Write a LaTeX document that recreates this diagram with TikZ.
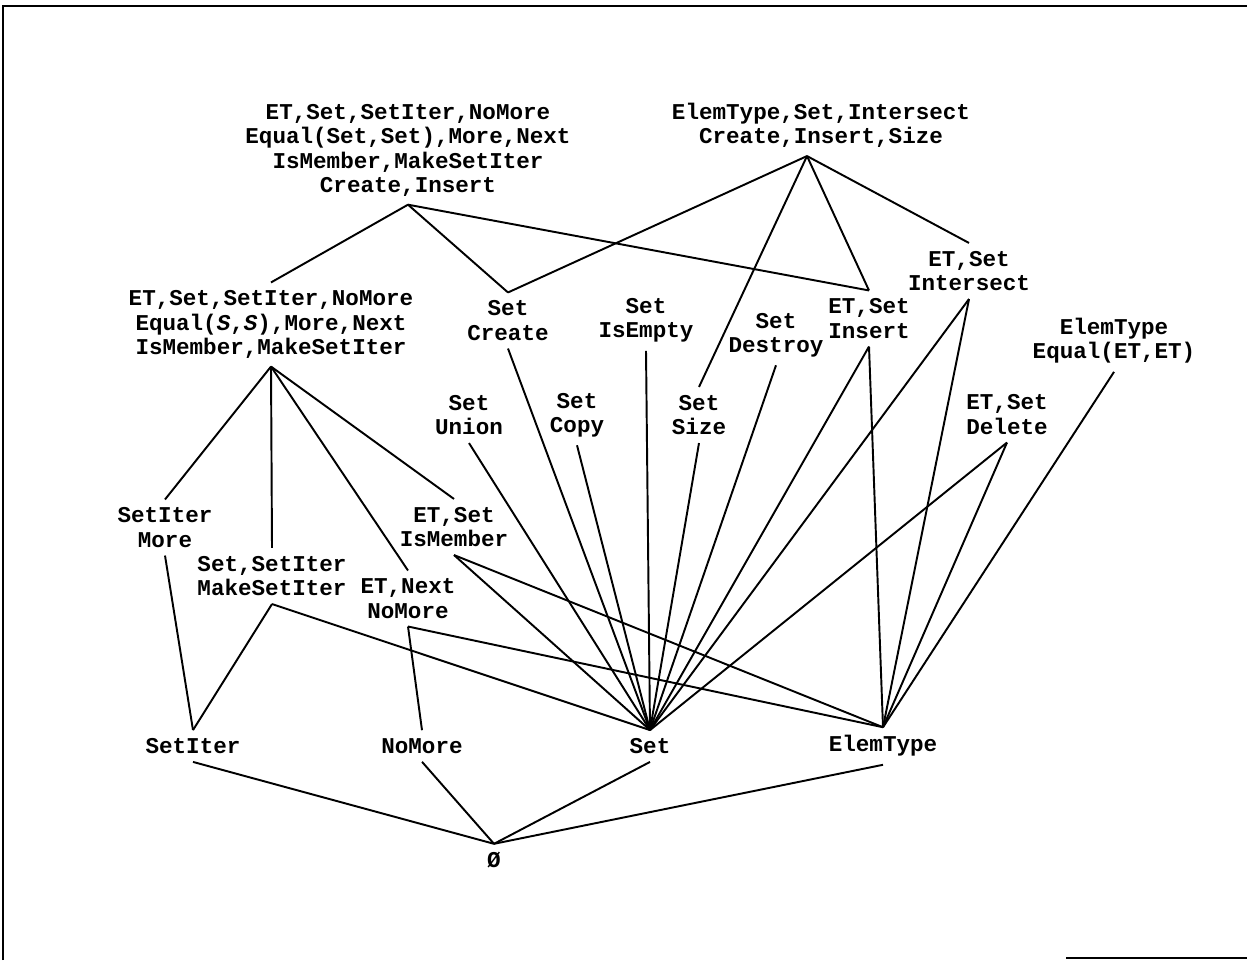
\documentclass[tikz,border=0pt]{standalone}
\usepackage{fontspec}
\newfontfamily\cour{Liberation Mono}
\usetikzlibrary{calc}
\begin{document}
\begin{tikzpicture}[x=0.02cm,y=-0.02cm,
  lbl/.style={font=\cour\bfseries\fontsize{12.85}{13.8}\selectfont, align=center, inner xsep=0pt, inner ysep=4.5pt},
  edge/.style={line width=1.1pt},
  frame/.style={line width=1.3pt}]
\useasboundingbox (0,0) rectangle (1247,960);
% frame
\coordinate (f1) at (3,960);
\coordinate (f2) at (3,6);
\coordinate (f3) at (1247,6);
\coordinate (f4) at (1066,958);
\coordinate (f5) at (1247,958);
\draw[frame] (f1) -- (f2) -- (f3);
\draw[frame] (f4) -- (f5);
% nodes
\node[lbl] (t1) at (408,150.5) {ET,Set,SetIter,NoMore\\Equal(Set,Set),More,Next\\IsMember,MakeSetIter\\Create,Insert};
\node[lbl] (t2) at (821,125.5) {ElemType,Set,Intersect\\Create,Insert,Size};
\node[lbl] (ml) at (271,324.5) {ET,Set,SetIter,NoMore\\Equal({\itshape S},{\itshape S}),More,Next\\IsMember,MakeSetIter};
\node[lbl] (cre) at (508,320.5) {Set\\Create};
\node[lbl] (emp) at (646,320.5) {Set\\IsEmpty};
\node[lbl] (des) at (776,335) {Set\\Destroy};
\node[lbl] (ins) at (869,318.5) {ET,Set\\Insert};
\node[lbl] (int) at (969,271) {ET,Set\\Intersect};
\node[lbl] (eq) at (1114,341) {ElemType\\Equal(ET,ET)};
\node[lbl] (uni) at (469,415) {Set\\Union};
\node[lbl] (cop) at (577,415) {Set\\Copy};
\node[lbl] (siz) at (699,415) {Set\\Size};
\node[lbl] (del) at (1007,414.5) {ET,Set\\Delete};
\node[lbl] (itm) at (165,527.5) {SetIter\\More};
\node[lbl] (mk) at (272,576) {Set,SetIter\\MakeSetIter};
\node[lbl] (mem) at (454,527) {ET,Set\\IsMember};
\node[lbl] (nx) at (408,598.5) {ET,Next\\NoMore};
\node[lbl] (bit) at (193,746) {SetIter};
\node[lbl] (bnm) at (422,746) {NoMore};
\node[lbl] (bset) at (650,746) {Set};
\node[lbl] (bet) at (883,746) {ElemType};
\node[lbl] (bot) at (494,860) {Ø};
% edges from top
\coordinate (t2v) at ($(t2.south)+(-14,0)$);
\draw[edge] (t1.south) -- (ml.north);
\draw[edge] (t1.south) -- (cre.north);
\draw[edge] (t1.south) -- (ins.north);
\draw[edge] (t2v) -- (cre.north);
\draw[edge] (t2v) -- (siz.north);
\draw[edge] (t2v) -- (ins.north);
\draw[edge] (t2v) -- (int.north);
% from middle-left
\draw[edge] (ml.south) -- (itm.north);
\draw[edge] (ml.south) -- (mk.north);
\draw[edge] (ml.south) -- (nx.north);
\draw[edge] (ml.south) -- (mem.north);
% to base sorts
\draw[edge] (itm.south) -- (bit.north);
\draw[edge] (mk.south) -- (bit.north);
\draw[edge] (mk.south) -- (bset.north);
\draw[edge] (nx.south) -- (bnm.north);
\draw[edge] (nx.south) -- (bet.north);
\draw[edge] (mem.south) -- (bset.north);
\draw[edge] (mem.south) -- (bet.north);
\draw[edge] (uni.south) -- (bset.north);
\draw[edge] (cre.south) -- (bset.north);
\draw[edge] (cop.south) -- (bset.north);
\draw[edge] (emp.south) -- (bset.north);
\draw[edge] (siz.south) -- (bset.north);
\draw[edge] (des.south) -- (bset.north);
\draw[edge] (ins.south) -- (bset.north);
\draw[edge] (ins.south) -- (bet.north);
\draw[edge] (int.south) -- (bset.north);
\draw[edge] (int.south) -- (bet.north);
\draw[edge] (del.south) -- (bset.north);
\draw[edge] (del.south) -- (bet.north);
\draw[edge] (eq.south) -- (bet.north);
% to empty
\draw[edge] (bit.south) -- (bot.north);
\draw[edge] (bnm.south) -- (bot.north);
\draw[edge] (bset.south) -- (bot.north);
\draw[edge] (bet.south) -- (bot.north);
\end{tikzpicture}
\end{document}
